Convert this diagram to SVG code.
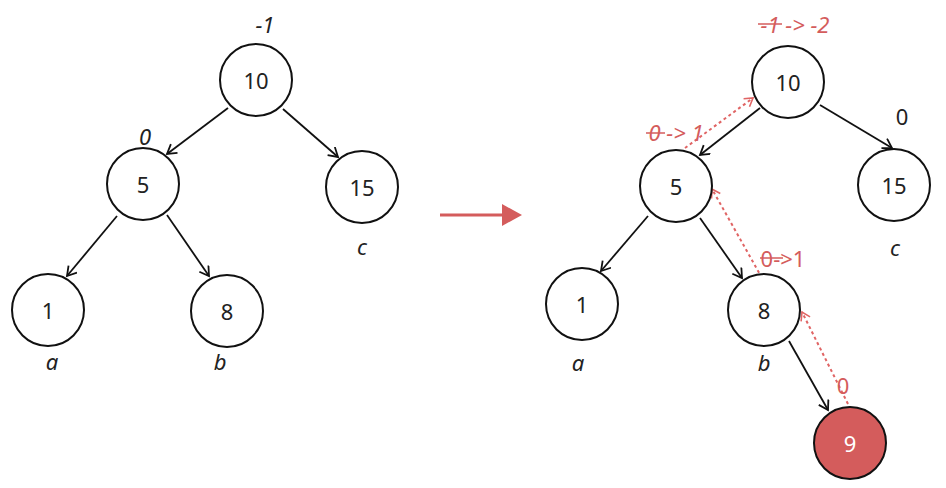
<svg xmlns="http://www.w3.org/2000/svg" width="946" height="488" viewBox="0 0 946 488">
<style>
.n{fill:#fff;stroke:#111;stroke-width:2}
.t{font-family:"Noto Sans","Open Sans",sans-serif;font-size:22px;fill:#222;text-anchor:middle;dominant-baseline:central}
.l{font-family:"Noto Sans","Open Sans",sans-serif;font-size:22px;font-style:italic;fill:#222;text-anchor:middle}
.r{fill:#d45c5c}
.e{stroke:#111;stroke-width:1.8;fill:none;marker-end:url(#a)}
.d{stroke:#e06464;stroke-width:2;fill:none;stroke-dasharray:3 3;marker-end:url(#ar)}
.s{stroke:#d45c5c;stroke-width:1.5}
</style>
<defs>
<marker id="a" markerWidth="14" markerHeight="14" refX="10" refY="6" orient="auto" markerUnits="userSpaceOnUse"><path d="M1,0.5 L10,6 L1,11.5" fill="none" stroke="#111" stroke-width="1.8"/></marker>
<marker id="ar" markerWidth="14" markerHeight="14" refX="10" refY="6" orient="auto" markerUnits="userSpaceOnUse"><path d="M2,1 L10,6 L2,11" fill="none" stroke="#e06464" stroke-width="1.6"/></marker>
</defs>
<g id="connectors">
<line class="e" x1="228" y1="108" x2="167" y2="154"/>
<line class="e" x1="283" y1="109" x2="338" y2="157"/>
<line class="e" x1="117" y1="216" x2="67" y2="276"/>
<line class="e" x1="167" y1="215" x2="209" y2="276"/>
<line class="e" x1="760" y1="108" x2="700" y2="155"/>
<line class="e" x1="820" y1="105" x2="892" y2="148"/>
<line class="e" x1="648" y1="216" x2="601" y2="271"/>
<line class="e" x1="700" y1="218" x2="742" y2="278"/>
<line class="e" x1="789" y1="341" x2="828" y2="410"/>
<line class="d" x1="685" y1="148" x2="753" y2="98"/>
<line class="d" x1="762" y1="278" x2="712" y2="189"/>
<line class="d" x1="848" y1="404" x2="802" y2="312"/>
<line x1="440" y1="215" x2="505" y2="215" stroke="#d45c5c" stroke-width="3"/>
<polygon class="r" points="502,204 522,215 502,226"/>
</g>
<g id="L10"><circle class="n" cx="256" cy="80" r="36"/><text class="t" x="256" y="80">10</text></g>
<g id="L5"><circle class="n" cx="143" cy="184" r="36"/><text class="t" x="143" y="184">5</text></g>
<g id="L15"><circle class="n" cx="362" cy="187" r="36"/><text class="t" x="362" y="187">15</text></g>
<g id="L1"><circle class="n" cx="48" cy="310" r="36"/><text class="t" x="48" y="310">1</text></g>
<g id="L8"><circle class="n" cx="227" cy="311" r="36"/><text class="t" x="227" y="311">8</text></g>
<g id="Llabels">
<text class="l" x="265" y="33">-1</text>
<text class="l" x="145" y="145">0</text>
<text class="l" x="362" y="255">c</text>
<text class="l" x="52" y="370">a</text>
<text class="l" x="220" y="370">b</text>
</g>
<g id="R10"><circle class="n" cx="788" cy="82" r="36"/><text class="t" x="788" y="82">10</text></g>
<g id="R5"><circle class="n" cx="676" cy="186" r="36"/><text class="t" x="676" y="186">5</text></g>
<g id="R15"><circle class="n" cx="894" cy="185" r="36"/><text class="t" x="894" y="185">15</text></g>
<g id="R1"><circle class="n" cx="582" cy="304" r="36"/><text class="t" x="582" y="304">1</text></g>
<g id="R8"><circle class="n" cx="764" cy="310" r="36"/><text class="t" x="764" y="310">8</text></g>
<g id="R9"><circle cx="850" cy="443" r="36" fill="#d45c5c" stroke="#111" stroke-width="2"/><text class="t" x="850" y="443" style="fill:#fff">9</text></g>
<g id="Rlabels">
<text class="l" x="795" y="33" style="fill:#d45c5c">-1 -&gt; -2</text>
<line class="s" x1="758" y1="24" x2="782" y2="24"/>
<text class="l" x="676" y="141" style="fill:#d45c5c">0 -&gt; 1</text>
<line class="s" x1="646" y1="133" x2="665" y2="133"/>
<text class="t" x="783" y="258" style="fill:#d45c5c">0-&gt;1</text>
<line class="s" x1="760" y1="258" x2="783" y2="258"/>
<text class="t" x="843" y="385" style="fill:#d45c5c">0</text>
<text class="t" x="902" y="116">0</text>
<text class="l" x="895" y="256">c</text>
<text class="l" x="578" y="371">a</text>
<text class="l" x="764" y="371">b</text>
</g>
</svg>
